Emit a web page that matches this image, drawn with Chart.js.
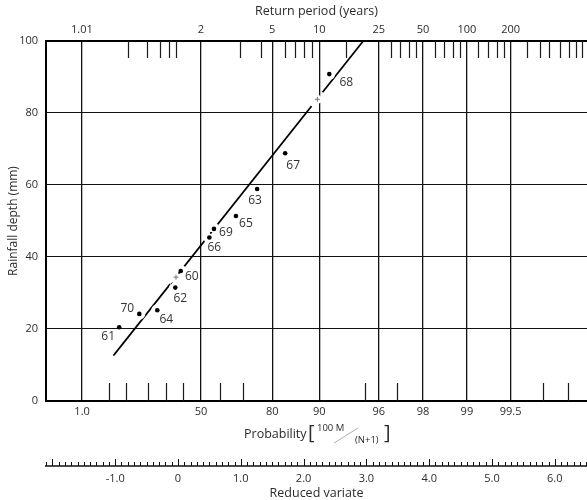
<!DOCTYPE html>
<html>
<head>
<meta charset="utf-8">
<script src="https://cdn.jsdelivr.net/npm/chart.js@4/dist/chart.umd.min.js"></script>
<style>
  html, body { margin: 0; padding: 0; background: #fff; }
  #wrap { width: 587px; height: 500px; position: relative; }
</style>
</head>
<body>
<div id="wrap"><canvas id="c" width="587" height="500"></canvas></div>
<script>
// Annual maximum rainfall, each point labelled with its year (19xx)
const years    = ['61', '70', '64', '62', '60', '66', '69', '65', '63', '67', '68'];
const depthMm  = [20.5, 24.2, 25.2, 31.5, 36.1, 45.4, 47.8, 51.4, 58.9, 68.8, 90.8];
const probPct  = [7.8, 15.7, 24.9, 35.2, 38.4, 54.5, 56.9, 67.2, 75.3, 83.4, 91.4];

// Fitted straight line (end points) and the two construction marks on it
const fitProb   = [6.1, 94.9];
const fitDepth  = [12.6, 100];
const markProb  = [35.6, 89.7];
const markDepth = [34.4, 83.8];

// Probability scale (bottom)
const probGrid       = [1, 50, 80, 90, 96, 98, 99, 99.5];
const probGridLabels = ['1.0', '50', '80', '90', '96', '98', '99', '99.5'];
const probMinor      = [5, 10, 20, 30, 40, 60, 70, 95, 97, 99.7, 99.8];

// Return period scale (top)
const rpMajor       = [1.01, 2, 5, 10, 25, 50, 100, 200];
const rpMajorLabels = ['1.01', '2', '5', '10', '25', '50', '100', '200'];
const rpMinor       = [1.12, 1.24, 1.36, 1.46, 1.56, 3.2, 4.3, 6, 7, 8, 9, 15, 30, 35, 40, 45,
                       60, 70, 80, 90, 120, 140, 160, 180, 260, 320, 370, 440, 510, 570, 620];

// Reduced variate scale
const rvLabels = [-1, 0, 1, 2, 3, 4, 5, 6];

// Year label offsets from their points (px)
const labelDx = [-11, -12, 9, 5, 11, 5, 12, 10, -2, 8, 17];
const labelDy = [9.5, -5, 9, 10.5, 6, 10, 4, 8, 12, 12.5, 8.5];

// Gumbel reduced variate
const gumbel = p => -Math.log(-Math.log(p));
const rvFromProb = pct => gumbel(pct / 100);
const rvFromReturn = T => gumbel(1 - 1 / T);

const X_MIN = -2.102, X_MAX = 6.513;
const FONT = '"Open Sans", "Noto Sans", sans-serif';
const TXT = '#2b2b2b';
const MARK_CLEAR = 9, POINT_CLEAR = 6;

const obsPoints  = years.map((_, i) => ({ x: rvFromProb(probPct[i]), y: depthMm[i] }));
const fitPoints  = fitProb.map((p, i) => ({ x: rvFromProb(p), y: fitDepth[i] }));
const markPoints = markProb.map((p, i) => ({ x: rvFromProb(p), y: markDepth[i] }));

// keep every axis from reserving extra room for its end labels
const noEdgePadding = s => { s.paddingLeft = 0; s.paddingRight = 0; };

const FIT_INDEX = 3;

const paperPlugin = {
  id: 'paper',
  // the fitted line is broken where it passes the marks and the plotted points
  beforeDatasetDraw(chart, args) {
    if (args.index !== FIT_INDEX) return;
    const ctx = chart.ctx;
    ctx.save();
    ctx.beginPath();
    ctx.rect(0, 0, chart.width, chart.height);
    const holes = [];
    chart.getDatasetMeta(1).data.forEach(el => holes.push([el.x, el.y, MARK_CLEAR]));
    chart.getDatasetMeta(0).data.forEach(el => holes.push([el.x, el.y, POINT_CLEAR]));
    holes.forEach(([cx, cy, r]) => { ctx.moveTo(cx + r, cy); ctx.arc(cx, cy, r, 0, Math.PI * 2, true); });
    ctx.clip('evenodd');
  },
  afterDatasetDraw(chart, args) {
    if (args.index === FIT_INDEX) chart.ctx.restore();
  },
  afterDatasetsDraw(chart) {
    const ctx = chart.ctx;
    const meta = chart.getDatasetMeta(0);
    ctx.save();
    ctx.fillStyle = '#333';
    ctx.font = '12px ' + FONT;
    ctx.textAlign = 'center';
    ctx.textBaseline = 'middle';
    meta.data.forEach((el, i) => {
      ctx.fillText(years[i], el.x + labelDx[i], el.y + labelDy[i]);
    });
    ctx.restore();
  },
  afterDraw(chart) {
    const ctx = chart.ctx;
    const area = chart.chartArea;
    const sx = chart.scales.x;
    const sRv = chart.scales.xRv;
    ctx.save();
    ctx.strokeStyle = '#1a1a1a';
    ctx.lineWidth = 1.2;
    // short probability ticks rising from the bottom edge
    probMinor.forEach(p => {
      const px = Math.round(sx.getPixelForValue(rvFromProb(p))) + 0.5;
      ctx.beginPath(); ctx.moveTo(px, area.bottom); ctx.lineTo(px, area.bottom - 18); ctx.stroke();
    });
    // short return-period ticks hanging from the top edge
    rpMinor.forEach(T => {
      const px = Math.round(sx.getPixelForValue(rvFromReturn(T))) + 0.5;
      if (px > area.right) return;
      ctx.beginPath(); ctx.moveTo(px, area.top); ctx.lineTo(px, area.top + 17); ctx.stroke();
    });

    // reduced variate ruler
    const yLine = sRv.top + 7;
    ctx.strokeStyle = '#111';
    ctx.lineWidth = 1.6;
    ctx.beginPath(); ctx.moveTo(area.left - 1, yLine); ctx.lineTo(area.right, yLine); ctx.stroke();
    ctx.lineWidth = 1;
    for (let k = Math.ceil(X_MIN * 10); k <= Math.floor(X_MAX * 10); k++) {
      const px = Math.round(sRv.getPixelForValue(k / 10)) + 0.5;
      const len = (k % 10 === 0) ? 7 : 4;
      ctx.beginPath(); ctx.moveTo(px, yLine); ctx.lineTo(px, yLine - len); ctx.stroke();
    }

    // probability axis title with its plotting-position formula
    ctx.fillStyle = TXT;
    ctx.textBaseline = 'middle';
    ctx.textAlign = 'left';
    ctx.font = '12.5px ' + FONT;
    ctx.fillText('Probability', 244, 434);
    ctx.font = '20px ' + FONT;
    ctx.fillText('[', 308, 433);
    ctx.fillText(']', 384, 433);
    ctx.font = '9.5px ' + FONT;
    ctx.fillText('100 M', 317, 428);
    ctx.fillText('(N+1)', 355, 440);
    ctx.strokeStyle = '#999';
    ctx.lineWidth = 0.8;
    ctx.beginPath(); ctx.moveTo(334, 443); ctx.lineTo(358, 428); ctx.stroke();
    ctx.restore();
  }
};

new Chart(document.getElementById('c'), {
  type: 'scatter',
  data: {
    datasets: [
      // observed maxima
      { data: obsPoints, pointRadius: 2.3, pointBackgroundColor: '#000', pointBorderColor: '#000',
        pointBorderWidth: 0, order: 0 },
      // construction marks
      { data: markPoints, pointStyle: 'cross', pointRadius: 2.5, pointBorderColor: '#777',
        pointBorderWidth: 1, order: 1 },
      // small white clearing under each mark
      { data: markPoints, pointRadius: 4.5, pointBackgroundColor: '#fff', pointBorderWidth: 0, order: 2 },
      // fitted line
      { type: 'line', data: fitPoints, borderColor: '#000', borderWidth: 1.7, pointRadius: 0,
        fill: false, tension: 0, order: 3 }
    ]
  },
  options: {
    responsive: false,
    animation: false,
    devicePixelRatio: 1,
    layout: { autoPadding: false, padding: { left: 0, right: 0, top: 0, bottom: 0 } },
    plugins: { legend: { display: false }, tooltip: { enabled: false } },
    scales: {
      x: {
        type: 'linear', position: 'bottom', min: X_MIN, max: X_MAX, weight: 0,
        afterBuildTicks: s => { s.ticks = probGrid.map(p => ({ value: rvFromProb(p) })); },
        afterFit: s => { s.height = 58; noEdgePadding(s); },
        ticks: { autoSkip: false, maxRotation: 0, padding: 4, color: TXT,
                 font: { family: FONT, size: 11 },
                 callback: (v, i) => probGridLabels[i] },
        grid: { color: '#111', lineWidth: 1.3, drawTicks: false },
        border: { color: '#000', width: 2 }
      },
      xRv: {
        type: 'linear', position: 'bottom', min: X_MIN, max: X_MAX, weight: 1,
        afterBuildTicks: s => { s.ticks = rvLabels.map(v => ({ value: v })); },
        afterFit: s => { s.height = 41; noEdgePadding(s); },
        ticks: { autoSkip: false, maxRotation: 0, padding: 13, color: TXT,
                 font: { family: FONT, size: 11 },
                 callback: v => (v === 0 ? '0' : v.toFixed(1)) },
        grid: { display: false, drawTicks: false },
        border: { display: false },
        title: { display: true, text: 'Reduced variate', color: TXT,
                 font: { family: FONT, size: 12.5 }, padding: { top: 0, bottom: -1 } }
      },
      xTop: {
        type: 'linear', position: 'top', min: X_MIN, max: X_MAX,
        afterBuildTicks: s => { s.ticks = rpMajor.map(T => ({ value: rvFromReturn(T) })); },
        afterFit: s => { s.height = 41; noEdgePadding(s); },
        ticks: { autoSkip: false, maxRotation: 0, padding: 5, color: TXT,
                 font: { family: FONT, size: 11 },
                 callback: (v, i) => rpMajorLabels[i] },
        grid: { display: false, drawTicks: false },
        border: { color: '#000', width: 2 },
        title: { display: true, text: 'Return period (years)', color: TXT,
                 font: { family: FONT, size: 12.5 }, padding: { top: 4, bottom: 0 } }
      },
      y: {
        type: 'linear', position: 'left', min: 0, max: 100,
        afterFit: s => { s.width = 46; },
        ticks: { stepSize: 20, padding: 8, color: TXT, font: { family: FONT, size: 11 } },
        grid: { color: '#111', lineWidth: 1.1, drawTicks: false },
        border: { color: '#000', width: 2 },
        title: { display: true, text: 'Rainfall depth (mm)', color: TXT,
                 font: { family: FONT, size: 12 }, padding: { top: 6, bottom: 0 } }
      }
    }
  },
  plugins: [paperPlugin]
});
</script>
</body>
</html>
